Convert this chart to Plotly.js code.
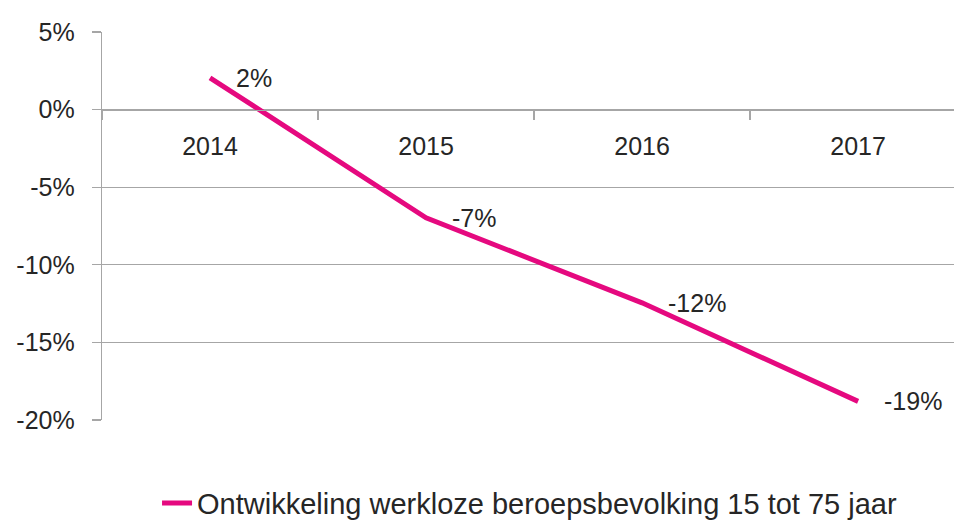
<!DOCTYPE html>
<html>
<head>
<meta charset="utf-8">
<script src="https://cdn.plot.ly/plotly-3.0.1.min.js"></script>
<style>
html,body{margin:0;padding:0;background:#fff;}
#chart{width:954px;height:527px;}
</style>
</head>
<body>
<div id="chart"></div>
<script>
const years = ['2014', '2015', '2016', '2017'];
const values = [2.05, -6.97, -12.45, -18.8];
const valueLabels = ['2%', '-7%', '-12%', '-19%'];
const seriesName = 'Ontwikkeling werkloze beroepsbevolking 15 tot 75 jaar';
const yTickValues = [-20, -15, -10, -5, 0, 5];
const yTickLabels = ['-20%', '-15%', '-10%', '-5%', '0%', '5%'];

const FONT = "'Liberation Sans', Arial, sans-serif";
const GRID = '#a6a6a6';
const PINK = '#e5097f';

const trace = {
  type: 'scatter',
  mode: 'lines',
  x: years,
  y: values,
  name: seriesName,
  line: {color: PINK, width: 5},
  hoverinfo: 'skip'
};

const annotations = years.map((yr, i) => ({
  x: i, y: values[i], xref: 'x', yref: 'y',
  text: valueLabels[i], showarrow: false,
  xanchor: 'left', yanchor: 'middle', xshift: 24,
  font: {family: FONT, size: 25, color: '#262626'}
}));

const layout = {
  width: 954, height: 527,
  margin: {l: 102, r: 0, t: 32, b: 107, autoexpand: false},
  paper_bgcolor: '#fff', plot_bgcolor: '#fff',
  font: {family: FONT, size: 25, color: '#262626'},
  showlegend: true,
  legend: {
    orientation: 'h', x: 0.0646, xanchor: 'left', y: -0.214, yanchor: 'middle',
    font: {family: FONT, size: 29, color: '#262626'},
    bgcolor: 'rgba(0,0,0,0)'
  },
  xaxis: {
    type: 'category',
    range: [-0.5, 3.444],
    anchor: 'free', position: 0.8,
    showgrid: false, zeroline: false,
    showline: true, linecolor: GRID, linewidth: 1.3,
    ticks: 'outside', tickson: 'boundaries', ticklen: 9, tickcolor: GRID, tickwidth: 1.3,
    ticklabelstandoff: 14,
    tickfont: {family: FONT, size: 25, color: '#262626'}
  },
  yaxis: {
    range: [-20, 5],
    tickvals: yTickValues, ticktext: yTickLabels,
    showgrid: true, gridcolor: GRID, gridwidth: 1.3,
    zeroline: false,
    showline: true, linecolor: GRID, linewidth: 1.3,
    ticks: 'outside', ticklen: 9, tickcolor: GRID, tickwidth: 1.3,
    ticklabelstandoff: 12,
    tickfont: {family: FONT, size: 25, color: '#262626'}
  },
  annotations: annotations
};

Plotly.newPlot('chart', [trace], layout, {displayModeBar: false, staticPlot: true});
</script>
</body>
</html>
